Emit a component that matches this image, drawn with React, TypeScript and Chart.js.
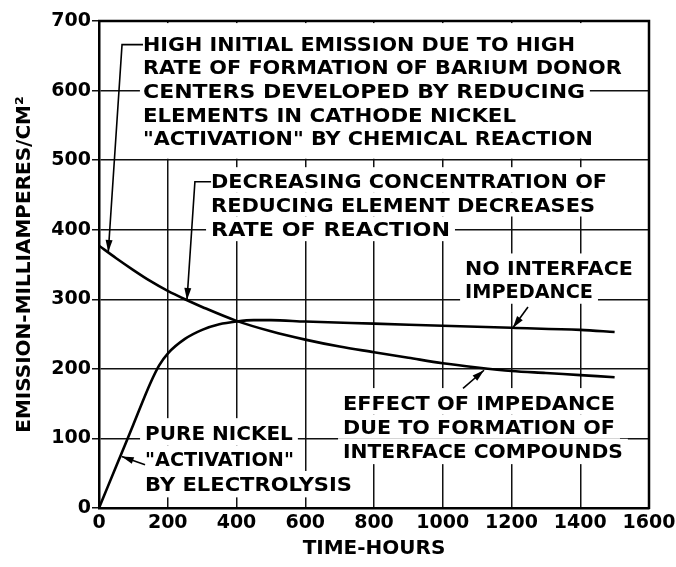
import React, { useEffect, useRef } from "react";
import { Chart, registerables } from "chart.js";

Chart.register(...registerables);

// ---------- data ----------
const hoursReducing = [0, 50, 100, 150, 200, 250, 300, 400, 500, 600, 700, 800, 900, 1000, 1100, 1200, 1300, 1400, 1500];
const emissionReducing = [377, 359, 342, 326, 312, 300, 289, 269, 254, 242, 232, 224, 216, 208, 202, 197, 194, 191, 188];

const hoursNickel = [0, 50, 100, 150, 175, 200, 250, 300, 350, 400, 450, 500, 600, 800, 1000, 1200, 1400, 1500];
const emissionNickel = [0, 60, 120, 180, 205, 222, 243, 256, 264, 268, 270, 270, 268, 265, 262, 259, 256, 253];

const xTickValues = [0, 200, 400, 600, 800, 1000, 1200, 1400, 1600];
const yTickValues = [0, 100, 200, 300, 400, 500, 600, 700];

const xTitle = "TIME-HOURS";
const yTitle = "EMISSION-MILLIAMPERES/CM²";

const noteHighEmission = [
  "HIGH INITIAL EMISSION DUE TO HIGH",
  "RATE OF FORMATION OF BARIUM DONOR",
  "CENTERS DEVELOPED BY REDUCING",
  "ELEMENTS IN CATHODE NICKEL",
  "\"ACTIVATION\" BY CHEMICAL REACTION",
];
const noteDecreasing = ["DECREASING CONCENTRATION OF", "REDUCING ELEMENT DECREASES", "RATE OF REACTION"];
const noteNoInterface = ["NO INTERFACE", "IMPEDANCE"];
const noteImpedance = ["EFFECT OF IMPEDANCE", "DUE TO FORMATION OF", "INTERFACE COMPOUNDS"];
const notePureNickel = ["PURE NICKEL", "\"ACTIVATION\"", "BY ELECTROLYSIS"];

// ---------- annotation layout (data coordinates: hours / mA per cm²) ----------
type Note = {
  lines: string[];
  x: number; // left edge of the text
  ends: number[]; // right edge of every line
  y: number; // centre of first line
  step: number; // line pitch
  leader: [number, number][]; // arrow at the last point
  mask?: [number, number, number, number];
};

const notes: Note[] = [
  {
    lines: noteHighEmission,
    x: 128,
    ends: [1385, 1521, 1414, 1213, 1437],
    y: 668,
    step: 34,
    leader: [[128, 666], [67, 666], [27, 368]],
    mask: [119, 1428, 502, 697],
  },
  {
    lines: noteDecreasing,
    x: 326,
    ends: [1478, 1443, 1021],
    y: 470,
    step: 34,
    leader: [[326, 469], [279, 469], [256, 299]],
  },
  {
    lines: noteNoInterface,
    x: 1065,
    ends: [1553, 1437],
    y: 346,
    step: 34,
    leader: [[1248, 289], [1204, 259]],
  },
  {
    lines: noteImpedance,
    x: 710,
    ends: [1501, 1501, 1524],
    y: 152,
    step: 35,
    leader: [[1059, 172], [1120, 198]],
  },
  {
    lines: notePureNickel,
    x: 134,
    ends: [564, 567, 736],
    y: 108,
    step: 36.5,
    leader: [[134, 62], [66, 74]],
  },
];

const FONT = '"DejaVu Sans", "Liberation Sans", sans-serif';
const NOTE_SIZE = 20;

const notesPlugin = {
  id: "notes",
  beforeDatasetsDraw(chart: any) {
    const { ctx, scales } = chart;
    const xs = scales.x;
    const ys = scales.y;
    ctx.save();
    ctx.fillStyle = "#ffffff";
    for (const n of notes) {
      if (n.mask) {
        const [x0, x1, y0, y1] = n.mask;
        const px0 = xs.getPixelForValue(x0);
        const px1 = xs.getPixelForValue(x1);
        const py0 = ys.getPixelForValue(y1);
        const py1 = ys.getPixelForValue(y0);
        ctx.fillRect(px0, py0, px1 - px0, py1 - py0);
        continue;
      }
      const pitch = Math.abs(ys.getPixelForValue(0) - ys.getPixelForValue(n.step));
      n.lines.forEach((_t, i) => {
        const px = xs.getPixelForValue(n.x);
        const pe = xs.getPixelForValue(n.ends[i]);
        const pc = ys.getPixelForValue(n.y - i * n.step);
        const top = pc - pitch / 2 - (i === 0 ? 2 : 0);
        const bottom = pc + pitch / 2 + (i === n.lines.length - 1 ? 1 : 0);
        ctx.fillRect(px - 5, top, pe - px + 10, bottom - top);
      });
    }
    ctx.restore();
  },
  afterDatasetsDraw(chart: any) {
    const { ctx, scales, chartArea } = chart;
    const xs = scales.x;
    const ys = scales.y;
    ctx.save();
    // top and right frame
    ctx.strokeStyle = "#000";
    ctx.lineWidth = 2.5;
    ctx.beginPath();
    ctx.moveTo(chartArea.left - 1, chartArea.top);
    ctx.lineTo(chartArea.right, chartArea.top);
    ctx.lineTo(chartArea.right, chartArea.bottom + 1);
    ctx.stroke();

    ctx.font = `bold ${NOTE_SIZE}px ${FONT}`;
    ctx.fillStyle = "#000";
    ctx.textAlign = "left";
    ctx.textBaseline = "alphabetic";
    for (const n of notes) {
      n.lines.forEach((t, i) => {
        const px = xs.getPixelForValue(n.x);
        const pe = xs.getPixelForValue(n.ends[i]);
        const pc = ys.getPixelForValue(n.y - i * n.step);
        const w = ctx.measureText(t).width;
        const sx = (pe - px) / w;
        ctx.save();
        ctx.translate(px, pc + 0.365 * NOTE_SIZE);
        ctx.scale(sx, 1);
        ctx.fillText(t, 0, 0);
        ctx.restore();
      });
      // leader
      const pts = n.leader.map(([hx, v]) => [xs.getPixelForValue(hx), ys.getPixelForValue(v)]);
      ctx.lineWidth = 1.6;
      ctx.beginPath();
      pts.forEach(([px, py], i) => (i === 0 ? ctx.moveTo(px, py) : ctx.lineTo(px, py)));
      ctx.stroke();
      const [tx, ty] = pts[pts.length - 1];
      const [fx, fy] = pts[pts.length - 2];
      const ang = Math.atan2(ty - fy, tx - fx);
      const len = 12;
      const hw = 3.5;
      ctx.beginPath();
      ctx.moveTo(tx, ty);
      ctx.lineTo(tx - len * Math.cos(ang) + hw * Math.sin(ang), ty - len * Math.sin(ang) - hw * Math.cos(ang));
      ctx.lineTo(tx - len * Math.cos(ang) - hw * Math.sin(ang), ty - len * Math.sin(ang) + hw * Math.cos(ang));
      ctx.closePath();
      ctx.fill();
    }
    ctx.restore();
  },
};

export default function App() {
  const canvasRef = useRef<HTMLCanvasElement | null>(null);

  useEffect(() => {
    const canvas = canvasRef.current;
    if (!canvas) return;
    const reducing = hoursReducing.map((h, i) => ({ x: h, y: emissionReducing[i] }));
    const nickel = hoursNickel.map((h, i) => ({ x: h, y: emissionNickel[i] }));

    const chart = new Chart(canvas, {
      type: "line",
      data: {
        datasets: [
          {
            label: "Reducing element activation",
            data: reducing,
            borderColor: "#000",
            borderWidth: 2.6,
            pointRadius: 0,
            cubicInterpolationMode: "monotone",
            fill: false,
          },
          {
            label: "Pure nickel activation",
            data: nickel,
            borderColor: "#000",
            borderWidth: 2.6,
            pointRadius: 0,
            cubicInterpolationMode: "monotone",
            fill: false,
          },
        ],
      },
      options: {
        responsive: false,
        animation: false,
        devicePixelRatio: 1,
        layout: { padding: { top: 21, right: 27, left: 0, bottom: 0 } },
        plugins: {
          legend: { display: false },
          tooltip: { enabled: false },
        },
        scales: {
          x: {
            type: "linear",
            min: 0,
            max: 1600,
            afterFit: (s: any) => {
              s.height = 59;
              s.paddingLeft = 0;
              s.paddingRight = 0;
            },
            afterBuildTicks: (s: any) => {
              s.ticks = xTickValues.map((v) => ({ value: v }));
            },
            grid: { color: "#111", lineWidth: 1.5, drawTicks: false },
            border: { display: true, color: "#000", width: 2.5 },
            ticks: {
              color: "#000",
              padding: 4,
              maxRotation: 0,
              autoSkip: false,
              font: { family: FONT, size: 19, weight: "bold" },
              callback: (v: any) => String(v),
            },
            title: {
              display: true,
              text: xTitle,
              color: "#000",
              font: { family: FONT, size: 20, weight: "bold" },
              padding: { top: 0, bottom: 6 },
            },
          },
          y: {
            type: "linear",
            min: 0,
            max: 700,
            afterFit: (s: any) => {
              s.width = 99;
              s.paddingTop = 0;
              s.paddingBottom = 0;
            },
            afterBuildTicks: (s: any) => {
              s.ticks = yTickValues.map((v) => ({ value: v }));
            },
            grid: { color: "#111", lineWidth: 1.5, drawTicks: true, tickLength: 7 },
            border: { display: true, color: "#000", width: 2.5 },
            ticks: {
              color: "#000",
              padding: 1,
              autoSkip: false,
              font: { family: FONT, size: 19, weight: "bold" },
              callback: (v: any) => String(v),
            },
            title: {
              display: true,
              text: yTitle,
              color: "#000",
              font: { family: FONT, size: 20, weight: "bold" },
              padding: { top: 13, bottom: 0 },
            },
          },
        },
      },
      plugins: [notesPlugin],
    } as any);

    return () => chart.destroy();
  }, []);

  return (
    <div style={{ position: "absolute", left: 0, top: 0, width: 676, height: 567, background: "#fff" }}>
      <canvas ref={canvasRef} width={676} height={567} style={{ display: "block" }} />
    </div>
  );
}
